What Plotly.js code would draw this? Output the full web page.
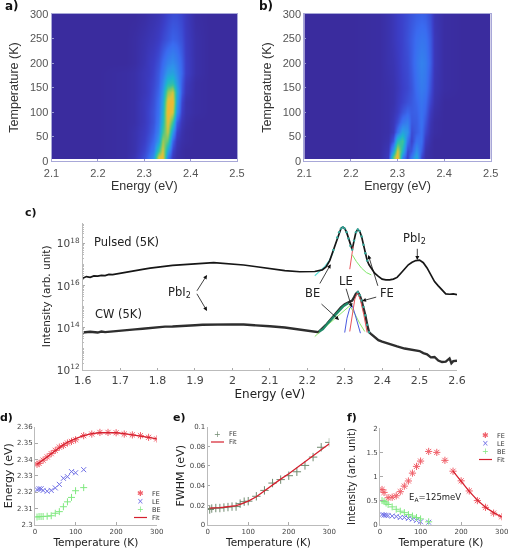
<!DOCTYPE html>
<html>
<head>
<meta charset="utf-8">
<script src="https://cdn.plot.ly/plotly-3.0.1.min.js"></script>
<style>
  html, body { margin: 0; padding: 0; background: #fff; }
  #chart { width: 520px; height: 550px; filter: blur(0.45px); }
</style>
</head>
<body>
<div id="chart"></div>
<script>
// a) CW map
const energyA = [2.10, 2.20, 2.26, 2.28, 2.30, 2.31, 2.32, 2.33, 2.34, 2.35, 2.36, 2.37, 2.38, 2.39, 2.41, 2.44, 2.50];
const tempA = [6, 8, 20, 40, 60, 80, 100, 120, 140, 160, 180, 200, 250, 300];
const mapA = [
  [0, 0, .01, .04, .12, .18, .3, .8, .85, .24, .06, .02, .01, 0, 0, 0, 0],
  [0, 0, .01, .04, .12, .18, .3, .8, .85, .24, .06, .02, .01, 0, 0, 0, 0],
  [0, 0, .01, .03, .1, .15, .23, .55, .8, .36, .09, .03, .01, 0, 0, 0, 0],
  [0, 0, .01, .03, .08, .12, .18, .33, .7, .6, .17, .05, .02, .01, 0, 0, 0],
  [0, 0, .01, .03, .07, .1, .15, .26, .55, .76, .32, .09, .03, .01, 0, 0, 0],
  [0, 0, .01, .02, .06, .09, .13, .22, .45, .84, .55, .16, .05, .02, 0, 0, 0],
  [0, 0, .01, .02, .06, .09, .13, .2, .4, .88, .8, .3, .08, .03, .01, 0, 0],
  [0, 0, .01, .02, .06, .08, .12, .19, .36, .84, .88, .36, .1, .03, .01, 0, 0],
  [0, 0, .01, .02, .05, .07, .11, .17, .31, .68, .78, .4, .14, .05, .01, 0, 0],
  [0, 0, .01, .02, .05, .07, .1, .15, .26, .47, .5, .33, .15, .06, .01, 0, 0],
  [0, 0, .01, .02, .05, .06, .09, .14, .21, .33, .36, .28, .17, .08, .02, 0, 0],
  [0, 0, 0, .01, .04, .06, .08, .12, .18, .25, .28, .24, .16, .08, .02, 0, 0],
  [0, 0, 0, .01, .03, .04, .05, .07, .1, .13, .16, .15, .12, .07, .02, 0, 0],
  [0, 0, 0, 0, .01, .02, .03, .04, .06, .09, .11, .11, .09, .06, .01, 0, 0]
];

// b) pulsed map
const energyB = [2.10, 2.20, 2.26, 2.28, 2.29, 2.30, 2.31, 2.32, 2.33, 2.34, 2.35, 2.36, 2.37, 2.38, 2.40, 2.44, 2.50];
const tempB = [6, 8, 20, 40, 60, 80, 100, 120, 150, 200, 250, 300];
const mapB = [
  [0, 0, .01, .06, .62, .9, .26, .08, .22, .38, .1, .02, .01, 0, 0, 0, 0],
  [0, 0, .01, .06, .62, .9, .26, .08, .22, .38, .1, .02, .01, 0, 0, 0, 0],
  [0, 0, .01, .05, .36, .8, .44, .1, .14, .3, .15, .03, .01, 0, 0, 0, 0],
  [0, 0, .01, .03, .14, .48, .56, .2, .09, .2, .19, .06, .02, 0, 0, 0, 0],
  [0, 0, .01, .02, .06, .2, .36, .3, .11, .15, .19, .1, .03, .01, 0, 0, 0],
  [0, 0, .01, .02, .05, .11, .21, .24, .14, .15, .2, .13, .04, .01, 0, 0, 0],
  [0, 0, .01, .02, .04, .07, .13, .17, .15, .16, .2, .16, .06, .02, 0, 0, 0],
  [0, 0, .01, .02, .03, .06, .09, .12, .14, .17, .21, .18, .09, .03, 0, 0, 0],
  [0, 0, .01, .02, .03, .05, .08, .1, .13, .19, .23, .21, .12, .04, .01, 0, 0],
  [0, 0, .01, .03, .04, .06, .09, .11, .15, .21, .25, .23, .15, .05, .01, 0, 0],
  [0, 0, .01, .03, .05, .07, .09, .12, .15, .19, .21, .2, .14, .05, .01, 0, 0],
  [0, 0, .01, .03, .05, .07, .09, .11, .13, .15, .16, .15, .11, .04, .01, 0, 0]
];

// c) spectra, log10 of intensity
const pulsedE = [1.6, 1.61, 1.62, 1.63, 1.64, 1.65, 1.66, 1.67, 1.68, 1.7, 1.72, 1.74, 1.76, 1.78, 1.8, 1.82, 1.84, 1.86, 1.88, 1.9, 1.92, 1.95, 1.98, 2.0, 2.03, 2.06, 2.1, 2.14, 2.18, 2.2, 2.22, 2.24, 2.25, 2.26, 2.27, 2.28, 2.285, 2.29, 2.295, 2.3, 2.305, 2.31, 2.315, 2.32, 2.325, 2.33, 2.335, 2.34, 2.345, 2.35, 2.355, 2.36, 2.365, 2.37, 2.38, 2.39, 2.4, 2.41, 2.42, 2.43, 2.44, 2.45, 2.46, 2.47, 2.48, 2.49, 2.5, 2.51, 2.52, 2.53, 2.54, 2.55, 2.56, 2.57, 2.58, 2.59, 2.6];
const pulsedLog = [16.36, 16.44, 16.4, 16.47, 16.46, 16.5, 16.49, 16.54, 16.53, 16.6, 16.66, 16.72, 16.78, 16.84, 16.89, 16.93, 16.97, 17.0, 17.03, 17.05, 17.07, 17.1, 17.07, 17.05, 16.99, 16.92, 16.81, 16.72, 16.67, 16.67, 16.68, 16.76, 16.9, 17.2, 17.7, 18.3, 18.55, 18.72, 18.79, 18.72, 18.55, 18.25, 17.9, 17.72, 18.15, 18.55, 18.68, 18.6, 18.35, 17.95, 17.55, 17.2, 17.0, 16.85, 16.6, 16.45, 16.32, 16.28, 16.28, 16.32, 16.4, 16.6, 16.82, 17.0, 17.12, 17.2, 17.22, 17.1, 16.85, 16.55, 16.2, 16.0, 15.82, 15.62, 15.6, 15.62, 15.58];
const cwE = [1.6, 1.62, 1.64, 1.65, 1.66, 1.68, 1.7, 1.72, 1.74, 1.76, 1.78, 1.8, 1.82, 1.84, 1.86, 1.88, 1.9, 1.92, 1.95, 1.98, 2.0, 2.03, 2.06, 2.1, 2.14, 2.18, 2.2, 2.23, 2.25, 2.27, 2.28, 2.29, 2.3, 2.31, 2.32, 2.325, 2.33, 2.335, 2.34, 2.345, 2.35, 2.355, 2.36, 2.365, 2.37, 2.38, 2.39, 2.4, 2.42, 2.44, 2.46, 2.48, 2.5, 2.51, 2.52, 2.53, 2.54, 2.55, 2.56, 2.57, 2.58, 2.585, 2.59, 2.6];
const cwLog = [13.78, 13.82, 13.78, 13.83, 13.8, 13.84, 13.87, 13.9, 13.93, 13.96, 14.0, 14.03, 14.06, 14.07, 14.1, 14.11, 14.13, 14.15, 14.17, 14.18, 14.17, 14.16, 14.14, 14.08, 14.02, 13.93, 13.87, 13.8, 14.14, 14.55, 14.78, 14.98, 15.12, 15.2, 15.3, 15.45, 15.62, 15.7, 15.55, 15.3, 15.0, 14.6, 14.15, 13.8, 13.72, 13.55, 13.42, 13.35, 13.22, 13.12, 13.02, 12.96, 12.9, 12.8, 12.75, 12.6, 12.62, 12.45, 12.38, 12.4, 12.55, 12.32, 12.42, 12.44];

const pulsedBeE = [2.22, 2.233, 2.247, 2.26, 2.27];
const pulsedBeLog = [16.48, 16.71, 16.92, 17.24, 17.63];
const pulsedFeE = [2.3135, 2.318, 2.3224];
const pulsedFeLog = [16.79, 17.32, 17.87];
const pulsedTailE = [2.32, 2.331, 2.345, 2.358, 2.371];
const pulsedTailLog = [17.48, 17.16, 16.84, 16.63, 16.52];
const cwBeE = [2.2317, 2.242, 2.256, 2.269, 2.282, 2.296, 2.309];
const cwBeLog = [13.83, 13.94, 14.25, 14.5, 14.78, 15.02, 15.17];
const cwBeTailE = [2.22, 2.2317, 2.242, 2.3135, 2.327, 2.34, 2.3535];
const cwBeTailLog = [13.59, 13.8, 13.95, 15.05, 14.67, 14.22, 13.83];
const cwLeE = [2.3, 2.306, 2.3135, 2.3206, 2.328, 2.336, 2.342];
const cwLeLog = [13.78, 14.46, 14.94, 15.05, 14.62, 14.14, 13.75];
const cwFeE = [2.3135, 2.3206, 2.327, 2.334, 2.342, 2.351, 2.36];
const cwFeLog = [13.83, 14.7, 15.37, 15.67, 15.33, 14.62, 13.78];

// d) peak energy
const tempFe = [5, 10, 20, 30, 40, 50, 60, 70, 80, 90, 100, 120, 140, 160, 180, 200, 220, 240, 260, 280, 300];
const energyFe = [2.337, 2.3375, 2.3395, 2.3415, 2.3435, 2.3455, 2.3475, 2.3485, 2.35, 2.351, 2.352, 2.3545, 2.3555, 2.3565, 2.3565, 2.3563, 2.3555, 2.355, 2.3545, 2.3535, 2.3525];
const energyFeFit = [2.337, 2.3378, 2.3394, 2.3414, 2.3435, 2.3455, 2.3473, 2.349, 2.3505, 2.3517, 2.3527, 2.3545, 2.3557, 2.3563, 2.3565, 2.3563, 2.3558, 2.3551, 2.3544, 2.3535, 2.3525];
const tempLow = [5, 10, 15, 20, 30, 40, 50, 60, 70, 80, 90, 100, 120];
const energyLe = [2.3215, 2.322, 2.322, 2.321, 2.3205, 2.321, 2.3225, 2.3247, 2.3284, 2.3294, 2.3325, 2.3318, 2.3337];
const energyBe = [2.3047, 2.305, 2.305, 2.305, 2.3052, 2.3055, 2.307, 2.308, 2.311, 2.314, 2.3167, 2.3208, 2.3227];

// e) linewidth
const fwhmFe = [.0155, .0165, .017, .017, .0175, .018, .0185, .0185, .0215, .0235, .024, .029, .035, .0425, .046, .05, .054, .0605, .069, .079, .084];
const fwhmFit = [.017, .017, .0172, .0175, .0178, .0182, .0188, .0195, .0207, .0222, .024, .0285, .0345, .041, .0465, .052, .058, .064, .0705, .0765, .0825];

// f) integrated intensity
const intensityFe = [.73, .67, .56, .57, .6, .685, .8, .907, 1.07, 1.21, 1.32, 1.52, 1.5, 1.335, 1.11, .91, .7, .5, .36, .24, .165];
const tempFit = [180, 200, 220, 240, 260, 280, 300];
const intensityFit = [1.11, .9, .69, .51, .36, .25, .16];
const intensityLe = [.21, .2, .195, .19, .18, .17, .15, .15, .13, .115, .09, .06, .05];
const intensityBe = [.5, .48, .45, .42, .37, .32, .28, .25, .21, .18, .15, .12, .06];

const parula = [
  [0, "#3a2c9e"], [0.08, "#3b3fc8"], [0.18, "#3a6bf0"], [0.3, "#2f93ea"], [0.42, "#1db4cf"],
  [0.55, "#3cc39a"], [0.68, "#8fc95c"], [0.8, "#dcc23c"], [0.9, "#f7b52e"], [1, "#fbe81a"]
];
const W = 520, H = 550;
const px = (x) => x / W;
const py = (y) => 1 - y / H;

const SANS = "Liberation Sans, Arial, sans-serif";
const DEJA = "DejaVu Sans, sans-serif";

function mapAxis(domain, vals, text, title, standoff) {
  return {
    domain: domain, range: [vals[0], vals[vals.length - 1]],
    tickvals: vals, ticktext: text, ticks: "inside", ticklen: 2, tickcolor: "#9a9ad0",
    showline: true, linecolor: "#a8a8d8", linewidth: 1, mirror: true, showgrid: false, zeroline: false,
    tickfont: { family: SANS, size: 11, color: "#555" },
    title: { text: title, font: { family: SANS, size: 12.5, color: "#333" }, standoff: standoff },
  };
}
function lineAxis(domain, range, vals, text, title, fontSize, titleSize, standoff) {
  return {
    domain: domain, range: range,
    tickvals: vals, ticktext: text, ticks: "inside", ticklen: 2.5, tickcolor: "#aaa",
    showline: true, linecolor: "#bbb", linewidth: 1, showgrid: false, zeroline: false,
    tickfont: { family: DEJA, size: fontSize, color: "#444" },
    title: { text: title, font: { family: DEJA, size: titleSize, color: "#222" }, standoff: standoff || 2 },
  };
}
const tempTicks = [0, 100, 200, 300], tempText = ["0", "100", "200", "300"];
const mapTicksY = [0, 50, 100, 150, 200, 250, 300], mapTextY = ["0", "50", "100", "150", "200", "250", "300"];
const mapTicksX = [2.1, 2.2, 2.3, 2.4, 2.5], mapTextX = ["2.1", "2.2", "2.3", "2.4", "2.5"];
const specTicksX = [1.6, 1.7, 1.8, 1.9, 2, 2.1, 2.2, 2.3, 2.4, 2.5, 2.6];
const specTextX = ["1.6", "1.7", "1.8", "1.9", "2", "2.1", "2.2", "2.3", "2.4", "2.5", "2.6"];

const mapY = [py(161), py(14)];
const lowY = [py(524.7), py(426.7)];

const layout = {
  width: W, height: H, margin: { l: 0, r: 0, t: 0, b: 0 },
  paper_bgcolor: "#fff", plot_bgcolor: "#fff", showlegend: false,
  xaxis: Object.assign(mapAxis([px(51.5), px(237)], mapTicksX, mapTextX, "Energy (eV)", 2), { anchor: "y", ticklabelstandoff: 2 }),
  yaxis: Object.assign(mapAxis(mapY, mapTicksY, mapTextY, "Temperature (K)", 8), { anchor: "x" }),
  xaxis2: Object.assign(mapAxis([px(304.3), px(490.7)], mapTicksX, mapTextX, "Energy (eV)", 2), { anchor: "y2", ticklabelstandoff: 2 }),
  yaxis2: Object.assign(mapAxis(mapY, mapTicksY, mapTextY, "Temperature (K)", 8), { anchor: "x2" }),
  xaxis3: Object.assign(lineAxis([px(82.7), px(457)], [1.6, 2.6], specTicksX, specTextX, "Energy (eV)", 11, 12), { anchor: "y3" }),
  yaxis3: Object.assign(lineAxis([py(370), py(222.7)], [12, 19],
    [1e12, 1e14, 1e16, 1e18],
    ["10<sup>12</sup>", "10<sup>14</sup>", "10<sup>16</sup>", "10<sup>18</sup>"],
    "Intensity (arb. unit)", 10.5, 10.5, 4),
    { anchor: "x3", type: "log", minor: { ticks: "inside", ticklen: 1.5, dtick: "D1", tickcolor: "#bbb" } }),
  xaxis4: Object.assign(lineAxis([px(35), px(156.7)], [0, 300], tempTicks, tempText, "Temperature (K)", 7, 10.5), { anchor: "y4" }),
  yaxis4: Object.assign(lineAxis(lowY, [2.3, 2.36], [2.3, 2.31, 2.32, 2.33, 2.34, 2.35, 2.36],
    ["2.3", "2.31", "2.32", "2.33", "2.34", "2.35", "2.36"], "Energy (eV)", 7, 11), { anchor: "x4" }),
  xaxis5: Object.assign(lineAxis([px(207.7), px(329.3)], [0, 300], tempTicks, tempText, "Temperature (K)", 7, 10.5), { anchor: "y5" }),
  yaxis5: Object.assign(lineAxis(lowY, [0, 0.1], [0, 0.02, 0.04, 0.06, 0.08, 0.1],
    ["0", "0.02", "0.04", "0.06", "0.08", "0.1"], "FWHM (eV)", 7, 11), { anchor: "x5" }),
  xaxis6: Object.assign(lineAxis([px(380), px(501.7)], [0, 300], tempTicks, tempText, "Temperature (K)", 7, 10.5), { anchor: "y6" }),
  yaxis6: Object.assign(lineAxis([py(524.7), py(428.3)], [0, 2], [0, 0.5, 1, 1.5, 2],
    ["0", "0.5", "1", "1.5", "2"], "Intensity (arb. unit)", 7, 10, 8), { anchor: "x6" }),
  annotations: [],
  shapes: [],
};

function label(text, x, y, size, opts) {
  layout.annotations.push(Object.assign({
    text: text, xref: "paper", yref: "paper", x: px(x), y: py(y),
    xanchor: "center", yanchor: "middle", showarrow: false,
    font: { family: DEJA, size: size, color: "#222" },
  }, opts || {}));
}
function arrow(x0, y0, x1, y1) {
  layout.annotations.push({
    text: "", xref: "paper", yref: "paper", x: px(x1), y: py(y1), axref: "pixel", ayref: "pixel",
    ax: x0 - x1, ay: y0 - y1, showarrow: true, arrowhead: 2, arrowsize: 1, arrowwidth: 0.8, arrowcolor: "#111",
  });
}
// plotly's own legend cannot go below 19px a row, these are 8px
function legendRow(name, glyph, color, x, y) {
  label(name, x + 10, y, 6.5, { xanchor: "left", font: { family: DEJA, size: 6.5, color: "#333" } });
  if (glyph) {
    label(glyph, x, y, 8, { font: { family: DEJA, size: 8, color: color } });
  } else {
    layout.shapes.push({ type: "line", xref: "paper", yref: "paper", x0: px(x - 6), x1: px(x + 7), y0: py(y), y1: py(y),
      line: { color: color, width: 1.2 } });
  }
}

label("<b>a)</b>", 12, 6, 12, { font: { family: DEJA, size: 12, color: "#111" } });
label("<b>b)</b>", 266, 6, 12, { font: { family: DEJA, size: 12, color: "#111" } });
label("<b>c)</b>", 31, 213, 11, { font: { family: DEJA, size: 11, color: "#111" } });
label("<b>d)</b>", 6, 417, 11, { font: { family: DEJA, size: 11, color: "#111" } });
label("<b>e)</b>", 179, 417, 11, { font: { family: DEJA, size: 11, color: "#111" } });
label("<b>f)</b>", 352, 417, 11, { font: { family: DEJA, size: 11, color: "#111" } });

label("Pulsed (5K)", 126, 242, 11.5);
label("CW (5K)", 118, 314, 11.5);
label("PbI<sub>2</sub>", 179, 292, 11.5);
label("PbI<sub>2</sub>", 414, 238, 11.5);
label("BE", 312, 293, 11.5);
label("LE", 345.5, 280.5, 11.5);
label("FE", 387, 293, 11.5);
label("E<sub>A</sub>=125meV", 435, 498, 8.5);

arrow(196, 292.3, 207, 275);
arrow(196, 292.3, 207, 311);
arrow(319, 285, 330.7, 264.3);
arrow(320, 302.7, 339, 320);
arrow(345.7, 287.3, 351.7, 307.3);
arrow(378.3, 287.3, 368.3, 255);
arrow(377.7, 296.7, 362, 301);
arrow(417.3, 247.3, 417.3, 260);

legendRow("FE", "✱", "#f0606a", 140, 493.5);
legendRow("LE", "×", "#7070e6", 140, 501.5);
legendRow("BE", "+", "#80e880", 140, 509.5);
legendRow("Fit", null, "#d5202e", 140, 517.5);
legendRow("FE", "+", "#708a70", 217, 434);
legendRow("Fit", null, "#d5202e", 217, 442);
legendRow("FE", "✱", "#f0606a", 485, 435.5);
legendRow("LE", "×", "#7070e6", 485, 443.5);
legendRow("BE", "+", "#80e880", 485, 451.5);
legendRow("Fit", null, "#d5202e", 485, 459.5);

const toPow = (arr) => arr.map((v) => Math.pow(10, v));
function spec(x, y, color, width) {
  return { x: x, y: toPow(y), xaxis: "x3", yaxis: "y3", type: "scatter", mode: "lines",
    line: { color: color, width: width } };
}
const peakE = pulsedE.filter((e) => e >= 2.265 && e <= 2.36);
const peakLog = pulsedLog.filter((v, i) => pulsedE[i] >= 2.265 && pulsedE[i] <= 2.36);
const cwPeakE = cwE.filter((e) => e >= 2.335 && e <= 2.365);
const cwPeakLog = cwLog.filter((v, i) => cwE[i] >= 2.335 && cwE[i] <= 2.365);

function points(x, y, xa, ya, name, symbol, color, size) {
  return { x: x, y: y, xaxis: xa, yaxis: ya, type: "scatter", mode: "markers", name: name,
    marker: { symbol: symbol, size: size, color: color, line: { color: color, width: 1 } } };
}
function fit(x, y, xa, ya) {
  return { x: x, y: y, xaxis: xa, yaxis: ya, type: "scatter", mode: "lines", name: "Fit",
    line: { color: "#d5202e", width: 1.3 } };
}

const traces = [
  { type: "heatmap", x: energyA, y: tempA, z: mapA, xaxis: "x", yaxis: "y", zmin: 0, zmax: 1, zsmooth: "best", colorscale: parula, showscale: false },
  { type: "heatmap", x: energyB, y: tempB, z: mapB, xaxis: "x2", yaxis: "y2", zmin: 0, zmax: 1, zsmooth: "best", colorscale: parula, showscale: false },

  spec(pulsedBeE, pulsedBeLog, "#5fe0d8", 1.2),
  spec(pulsedE, pulsedLog, "#161616", 1.7),
  spec(pulsedFeE, pulsedFeLog, "#e8555a", 1),
  spec(pulsedTailE, pulsedTailLog, "#7fe86a", 1),
  Object.assign(spec(peakE, peakLog, "#35a99c", 1), { mode: "markers", marker: { color: "#35a99c", size: 2.4 } }),

  spec(cwE, cwLog, "#2e2e2e", 2.4),
  spec(cwBeTailE, cwBeTailLog, "#8fe86e", 1),
  spec(cwBeE, cwBeLog, "#1f8a68", 2.2),
  spec(cwLeE, cwLeLog, "#4a5ae0", 1),
  spec(cwFeE, cwFeLog, "#e8555a", 1),
  Object.assign(spec(cwPeakE, cwPeakLog, "#35a99c", 1), { mode: "markers", marker: { color: "#35a99c", size: 2.4 } }),

  points(tempFe, energyFe, "x4", "y4", "FE", "asterisk-open", "#f0606a", 6),
  points(tempLow, energyLe, "x4", "y4", "LE", "x-thin-open", "#7070e6", 5),
  points(tempLow, energyBe, "x4", "y4", "BE", "cross-thin-open", "#80e880", 5),
  fit(tempFe, energyFeFit, "x4", "y4"),

  points(tempFe, fwhmFe, "x5", "y5", "FE", "cross-thin-open", "#708a70", 6),
  fit(tempFe, fwhmFit, "x5", "y5"),

  points(tempFe, intensityFe, "x6", "y6", "FE", "asterisk-open", "#f0606a", 6),
  points(tempLow, intensityLe, "x6", "y6", "LE", "x-thin-open", "#7070e6", 5),
  points(tempLow, intensityBe, "x6", "y6", "BE", "cross-thin-open", "#80e880", 5),
  fit(tempFit, intensityFit, "x6", "y6"),
];

Plotly.newPlot("chart", traces, layout, { displayModeBar: false, responsive: false });
</script>
</body>
</html>
